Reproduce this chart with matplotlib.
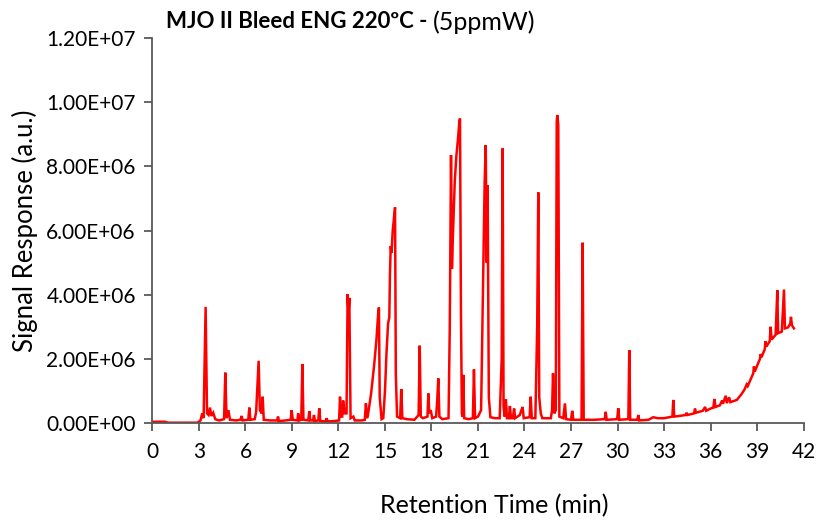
import matplotlib
matplotlib.use("Agg")
import matplotlib.pyplot as plt
from matplotlib.ticker import FuncFormatter, MultipleLocator

# chromatogram trace (retention time in min, signal in 1e6 a.u.)
rt_min = [
    0.0, 0.8, 1.0, 2.9, 3.1, 3.21, 3.30, 3.43, 3.52, 3.62, 3.71, 3.80, 3.92, 4.05,
    4.3, 4.62, 4.70, 4.78, 4.90, 5.0, 5.4, 5.68, 5.75, 5.82, 6.18, 6.25, 6.32,
    6.60, 6.69, 6.74, 6.85, 6.93, 7.05, 7.11, 7.18, 7.6, 8.05, 8.10, 8.16, 8.6,
    8.92, 8.98, 9.05, 9.35, 9.40, 9.47, 9.60, 9.67, 9.74, 10.05, 10.12, 10.18,
    10.36, 10.42, 10.48, 10.70, 10.76, 10.83, 11.18, 11.23, 11.3, 11.7, 12.04,
    12.10, 12.16, 12.24, 12.30, 12.40, 12.52, 12.59, 12.65, 12.70, 12.78, 12.96,
    13.05, 13.5, 13.70, 13.77, 13.84, 13.90, 14.10, 14.30, 14.45, 14.56, 14.61,
    14.66, 14.78, 14.89, 15.00, 15.10, 15.20, 15.28, 15.32, 15.37, 15.42, 15.50,
    15.60, 15.65, 15.70, 15.78, 15.98, 16.05, 16.12, 16.40, 16.90, 17.17, 17.24,
    17.31, 17.45, 17.74, 17.80, 17.86, 17.95, 18.05, 18.30, 18.37, 18.44, 18.51,
    18.70, 19.10, 19.18, 19.26, 19.32, 19.38, 19.50, 19.60, 19.70, 19.80, 19.84,
    19.90, 19.96, 20.00, 20.05, 20.11, 20.40, 20.67, 20.74, 20.81, 21.00, 21.20,
    21.35, 21.43, 21.50, 21.56, 21.62, 21.70, 21.80, 22.10, 22.40, 22.53, 22.59,
    22.65, 22.72, 22.80, 22.87, 22.99, 23.06, 23.13, 23.25, 23.33, 23.40, 23.70,
    23.80, 23.88, 23.95, 24.33, 24.40, 24.47, 24.70, 24.82, 24.89, 24.95, 25.05,
    25.15, 25.70, 25.78, 25.84, 25.92, 26.02, 26.08, 26.12, 26.18, 26.25, 26.50,
    26.61, 26.68, 27.00, 27.08, 27.15, 27.68, 27.75, 27.82, 28.50, 29.18, 29.24,
    29.30, 29.98, 30.05, 30.12, 30.70, 30.76, 30.82, 31.28, 31.34, 31.40, 32.0,
    32.3, 32.6, 33.0, 33.54, 33.60, 33.66, 34.0, 34.40, 34.46, 34.52, 34.94,
    35.00, 35.06, 35.5, 35.65, 35.72, 36.0, 36.18, 36.25, 36.32, 36.60, 36.75,
    36.80, 36.98, 37.05, 37.20, 37.28, 37.70, 38.00, 38.20, 38.33, 38.40, 38.76,
    38.80, 38.85, 39.19, 39.24, 39.29, 39.50, 39.55, 39.60, 39.82, 39.88, 39.94,
    40.20, 40.31, 40.36, 40.60, 40.74, 40.80, 41.00, 41.15, 41.19, 41.25, 41.38,
]
signal_e6 = [
    0.04, 0.04, 0.01, 0.01, 0.08, 0.30, 0.15, 3.62, 0.30, 0.25, 0.48, 0.22, 0.32, 0.12,
    0.08, 0.12, 1.57, 0.15, 0.40, 0.10, 0.08, 0.10, 0.22, 0.08, 0.10, 0.48, 0.10,
    0.12, 0.35, 0.85, 1.94, 0.40, 0.30, 0.82, 0.10, 0.08, 0.08, 0.20, 0.06, 0.08,
    0.10, 0.40, 0.10, 0.08, 0.30, 0.08, 0.10, 1.84, 0.10, 0.08, 0.37, 0.08,
    0.08, 0.25, 0.06, 0.08, 0.46, 0.06, 0.05, 0.15, 0.05, 0.06, 0.08,
    0.82, 0.20, 0.20, 0.70, 0.30, 0.30, 4.02, 3.40, 3.90, 0.15, 0.20,
    0.08, 0.08, 0.10, 0.61, 0.15, 0.25, 0.90, 1.80, 2.60, 3.40, 3.60,
    0.80, 0.12, 0.15, 1.00, 2.20, 3.10, 3.30, 4.60, 5.51, 5.30, 6.00,
    6.50, 6.72, 1.50, 0.20, 0.15, 1.06, 0.15, 0.12, 0.10, 0.25, 2.41,
    0.20, 0.15, 0.20, 0.92, 0.30, 0.40, 0.15, 0.20, 0.70, 1.39, 0.20,
    0.12, 0.15, 3.00, 8.35, 4.80, 5.80, 7.50, 8.30, 8.80, 9.40, 9.49,
    3.50, 0.30, 0.20, 1.50, 0.15, 0.12, 0.15, 1.67, 0.15, 0.20, 0.40,
    5.00, 7.50, 8.66, 5.00, 7.41, 0.80, 0.18, 0.15, 0.15, 2.00, 8.56,
    0.50, 0.20, 0.74, 0.15, 0.15, 0.53, 0.15, 0.15, 0.45, 0.15, 0.25,
    0.40, 0.50, 0.15, 0.18, 0.82, 0.15, 0.15, 3.00, 7.19, 0.80, 0.30,
    0.15, 0.15, 0.40, 1.55, 0.30, 0.40, 9.40, 9.60, 9.30, 0.20, 0.15,
    0.61, 0.12, 0.10, 0.38, 0.10, 0.10, 5.62, 0.10, 0.10, 0.12, 0.35,
    0.10, 0.12, 0.46, 0.10, 0.12, 2.27, 0.10, 0.10, 0.25, 0.08, 0.10,
    0.18, 0.15, 0.15, 0.20, 0.72, 0.20, 0.22, 0.25, 0.32, 0.25, 0.30,
    0.45, 0.32, 0.38, 0.50, 0.38, 0.45, 0.48, 0.75, 0.50, 0.55, 0.70,
    0.60, 0.85, 0.62, 0.80, 0.65, 0.72, 0.90, 1.05, 1.20, 1.15, 1.55,
    1.76, 1.60, 2.00, 2.15, 2.05, 2.30, 2.55, 2.38, 2.55, 3.00, 2.60,
    2.75, 4.14, 2.80, 2.85, 4.16, 2.95, 2.98, 3.10, 3.31, 3.05, 2.95,
]
signal = [v * 1e6 for v in signal_e6]

x_ticks = list(range(0, 43, 3))

plt.rcParams['font.family'] = ['Lato', 'DejaVu Sans']

fig = plt.figure(figsize=(8.17, 5.23), dpi=100)
ax = fig.add_axes([0.1866, 0.1912, 0.7969, 0.7361])

ax.plot(rt_min, signal, color='#ff0000', lw=1.8, solid_joinstyle='miter')

ax.set_xlim(0, 42)
ax.set_ylim(0, 1.2e7)
ax.set_xticks(x_ticks)
ax.yaxis.set_major_locator(MultipleLocator(2e6))
ax.yaxis.set_major_formatter(FuncFormatter(lambda v, p: f"{v:.2E}"))

for s in ['top', 'right']:
    ax.spines[s].set_visible(False)
for s in ['left', 'bottom']:
    ax.spines[s].set_color('#595959')
    ax.spines[s].set_linewidth(1.3)
ax.tick_params(axis='both', direction='out', length=6, width=1.3,
               color='#595959', labelsize=15, labelcolor='black', pad=6)
ax.tick_params(axis='x', pad=8)

ax.set_xlabel('Retention Time (min)', fontsize=18)
ax.xaxis.set_label_coords(0.525, -0.185)
ax.set_ylabel('Signal Response (a.u.)', fontsize=18.5, labelpad=6)

# title: bold part then normal part
t1 = fig.text(166 / 817, 1 - 22 / 523, 'MJO II Bleed ENG 220\u00baC - ',
              fontsize=16, fontweight='bold', va='center', ha='left')
fig.canvas.draw()
bb = t1.get_window_extent()
fig.text(bb.x1 / fig.bbox.width, 1 - 22 / 523, '(5ppmW)',
         fontsize=18, va='center', ha='left')

fig.savefig('out.png', dpi=100)
